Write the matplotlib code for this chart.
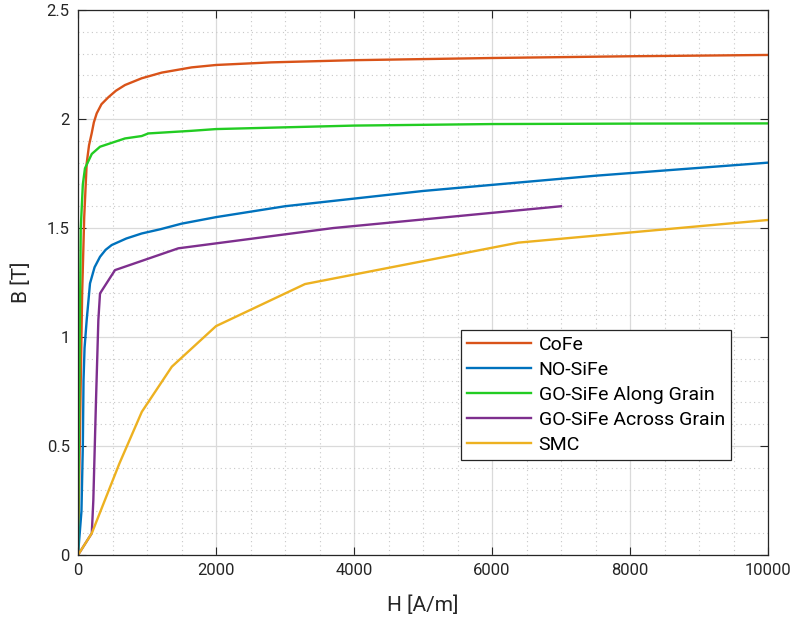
import numpy as np
import matplotlib.pyplot as plt
from matplotlib.ticker import MultipleLocator

# B-H curve points
cofe_h = [0, 30, 60, 90, 126, 160, 198, 230, 271, 340, 440, 550, 681, 923, 1213, 1647, 2000, 2800, 4000, 6000, 8000, 10000]
cofe_b = [0, 0.6, 1.2, 1.55, 1.797, 1.88, 1.934, 1.985, 2.026, 2.068, 2.10, 2.13, 2.156, 2.187, 2.213, 2.237, 2.248, 2.26, 2.27, 2.28, 2.288, 2.294]

nosife_h = [0, 50, 70, 80, 95, 126, 174, 240, 319, 400, 488, 700, 923, 1200, 1500, 2000, 3000, 5000, 7500, 10000]
nosife_b = [0, 0.2, 0.5, 0.8, 0.95, 1.078, 1.246, 1.32, 1.368, 1.40, 1.422, 1.452, 1.475, 1.495, 1.52, 1.55, 1.6, 1.67, 1.74, 1.80]

go_along_h = [0, 20, 40, 70, 101, 200, 319, 681, 923, 1019, 1647, 2000, 4000, 6000, 8000, 10000]
go_along_b = [0, 0.8, 1.5, 1.70, 1.774, 1.84, 1.873, 1.911, 1.922, 1.934, 1.946, 1.954, 1.97, 1.977, 1.979, 1.98]

go_across_h = [0, 200, 222, 261, 295, 319, 536, 1454, 3700, 7000]
go_across_b = [0, 0.1, 0.25, 0.71, 1.078, 1.2, 1.307, 1.407, 1.5, 1.6]

smc_h = [0, 200, 600, 925, 1360, 2000, 3290, 6380, 10000]
smc_b = [0, 0.1, 0.42, 0.657, 0.864, 1.05, 1.243, 1.433, 1.537]

plt.rcParams['font.family'] = ['Roboto', 'DejaVu Sans']

fig = plt.figure(figsize=(8, 6.28), dpi=100)
ax = fig.add_axes([0.0975, 0.1162, 0.8625, 0.8678])

lw = 1.7
ax.plot(cofe_h, cofe_b, color='#D95319', lw=lw, label='CoFe')
ax.plot(nosife_h, nosife_b, color='#0072BD', lw=lw, label='NO-SiFe')
ax.plot(go_along_h, go_along_b, color='#22CC22', lw=lw, label='GO-SiFe Along Grain')
ax.plot(go_across_h, go_across_b, color='#7E2F8E', lw=lw, label='GO-SiFe Across Grain')
ax.plot(smc_h, smc_b, color='#EDB120', lw=lw, label='SMC')

ax.set_xlim(0, 10000)
ax.set_ylim(0, 2.5)
ax.xaxis.set_major_locator(MultipleLocator(2000))
ax.xaxis.set_minor_locator(MultipleLocator(500))
ax.yaxis.set_major_locator(MultipleLocator(0.5))
ax.yaxis.set_minor_locator(MultipleLocator(0.1))
ax.yaxis.set_major_formatter(plt.FuncFormatter(lambda v, p: f'{v:g}'))

ax.grid(which='major', color='#DADADA', lw=0.9)
ax.grid(which='minor', color='#C8C8C8', lw=0.8, linestyle=(0, (1, 3)))
ax.set_axisbelow(True)

ax.tick_params(which='major', direction='in', top=True, right=True, length=6,
               labelsize=12, color='#262626', labelcolor='#262626', pad=6)
ax.tick_params(which='minor', length=0)
for s in ax.spines.values():
    s.set_color('#262626')
    s.set_linewidth(0.9)

ax.set_xlabel('H [A/m]', fontsize=15, color='#262626', labelpad=12)
ax.set_ylabel('B [T]', fontsize=15, color='#262626', labelpad=11)

leg = ax.legend(loc='upper left', bbox_to_anchor=(0.555, 0.413), fontsize=14,
                handlelength=3.3, handletextpad=0.4, labelspacing=0.36,
                borderpad=0.3, fancybox=False,
                edgecolor='#262626', framealpha=1, borderaxespad=0)
leg.get_frame().set_linewidth(0.9)

plt.savefig('out.png', dpi=100)
